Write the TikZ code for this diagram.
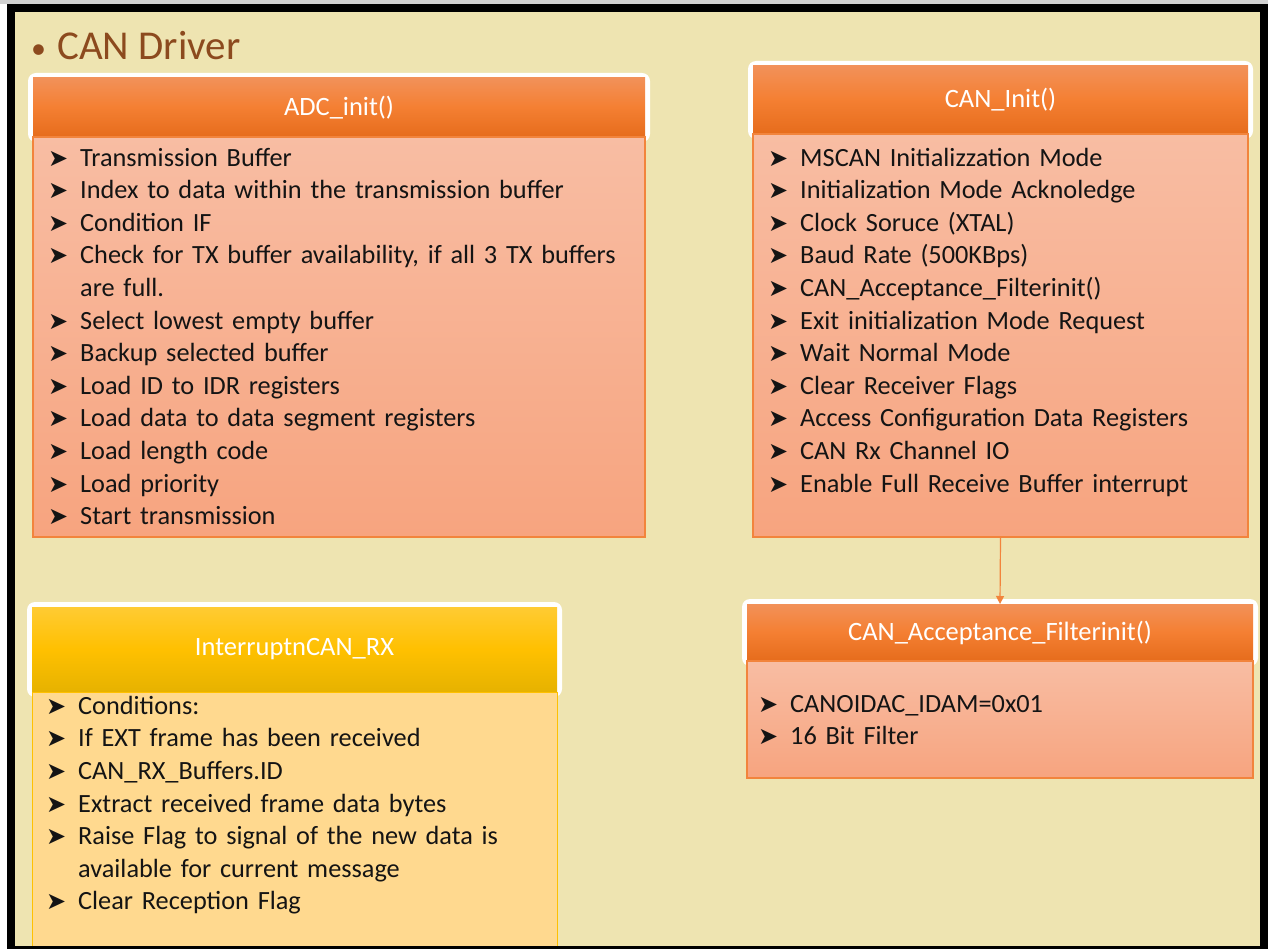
\documentclass[tikz,border=0pt]{standalone}
\usepackage{fontspec}
\setmainfont{Carlito}
\newfontfamily\dingfont{DejaVu Sans}
\usetikzlibrary{arrows.meta, positioning, fit, backgrounds}
\definecolor{slidebg}{HTML}{EEE4B1}
\definecolor{titlebrown}{HTML}{8C4A1E}
\definecolor{hdtop}{HTML}{F29159}
\definecolor{hdmid}{HTML}{F47F32}
\definecolor{hdbot}{HTML}{E66C1C}
\definecolor{bdtop}{HTML}{F8BDA3}
\definecolor{bdbot}{HTML}{F7A47F}
\definecolor{bodyline}{HTML}{F2843C}
\definecolor{gdtop}{HTML}{FFCB33}
\definecolor{gdmid}{HTML}{FFC000}
\definecolor{gdbot}{HTML}{E6B200}
\definecolor{gbody}{HTML}{FFD98F}
\setlength{\parindent}{0pt}
\newlength{\hangw}\setlength{\hangw}{30pt}
\newcommand{\bul}{{\dingfont\fontsize{24}{24}\selectfont\kern-2pt ➤}}
\newcommand{\bitem}[1]{\noindent\hangindent=\hangw\hangafter=1\makebox[\hangw][l]{\bul}\rule{0pt}{20pt}#1\par}
\tikzset{
  header/.style={rectangle, outer sep=0pt, inner sep=0pt, text=white,
                 font=\fontsize{26.5}{30}\selectfont,
                 top color=hdtop, bottom color=hdbot, middle color=hdmid},
  gheader/.style={header, top color=gdtop, bottom color=gdbot, middle color=gdmid},
  body/.style={rectangle, outer sep=0pt, inner sep=0pt, draw=bodyline, line width=1.5pt,
               top color=bdtop, bottom color=bdbot},
  gbodybox/.style={body, draw=gdmid, line width=1pt, top color=gbody, bottom color=gbody},
  glow/.style={rectangle, rounded corners=8pt, fill=white, inner sep=5pt},
  items/.style={anchor=north west, inner sep=0pt, align=left,
                font=\fontsize{26.3}{32.6}\selectfont, text=black!92},
  title/.style={inner sep=0pt, text=titlebrown, font=\fontsize{41}{41}\selectfont},
  link/.style={-{Triangle[length=8pt,width=8pt]}, draw=bodyline, line width=1.2pt},
}
\begin{document}
\begin{tikzpicture}[x=1pt, y=-1pt]
  \useasboundingbox (0,0) rectangle (1268,949);

  % Title
  \node[title, anchor=base west] (ttl) at (31,60) {\makebox[26pt][l]{\raisebox{1pt}{\fontsize{30}{30}\selectfont•}}CAN Driver};

  % ADC_init box
  \node[header, minimum width=612pt, minimum height=59pt, anchor=north west] (adch) at (33,78) {ADC\_init()};
  \node[body, minimum width=612pt, minimum height=400pt, below=0pt of adch] (adcb) {};
  \node[items, text width=585pt, below right=9pt and 17pt of adcb.north west] (adcl) {%
    \bitem{Transmission Buffer}
    \bitem{Index to data within the transmission buffer}
    \bitem{Condition IF}
    \bitem{Check for TX buffer availability, if all 3 TX buffers\newline are full.}
    \bitem{Select lowest empty buffer}
    \bitem{Backup selected buffer}
    \bitem{Load ID to IDR registers}
    \bitem{Load data to data segment registers}
    \bitem{Load length code}
    \bitem{Load priority}
    \bitem{Start transmission}};

  % CAN_Init box
  \node[header, minimum width=495pt, minimum height=68pt, anchor=north west] (canh) at (753,66) {CAN\_Init()};
  \node[body, minimum width=495pt, minimum height=403pt, below=0pt of canh] (canb) {};
  \node[items, text width=470pt, below right=12pt and 17pt of canb.north west] (canl) {%
    \bitem{MSCAN Initializzation Mode}
    \bitem{Initialization Mode Acknoledge}
    \bitem{Clock Soruce (XTAL)}
    \bitem{Baud Rate (500KBps)}
    \bitem{CAN\_Acceptance\_Filterinit()}
    \bitem{Exit initialization Mode Request}
    \bitem{Wait Normal Mode}
    \bitem{Clear Receiver Flags}
    \bitem{Access Configuration Data Registers}
    \bitem{CAN Rx Channel IO}
    \bitem{Enable Full Receive Buffer interrupt}};

  % CAN_Acceptance_Filterinit box
  \node[header, minimum width=506pt, minimum height=57pt, anchor=north west] (acch) at (747,604) {CAN\_Acceptance\_Filterinit()};
  \node[body, minimum width=506pt, minimum height=117pt, below=0pt of acch] (accb) {};
  \node[items, text width=480pt, below right=31pt and 13pt of accb.north west] (accl) {%
    \bitem{CANOIDAC\_IDAM=0x01}
    \bitem{16 Bit Filter}};

  % InterruptnCAN_RX box
  \node[gheader, minimum width=525pt, minimum height=85pt, anchor=north west] (inth) at (32,607) {InterruptnCAN\_RX};
  \node[gbodybox, minimum width=525pt, minimum height=258pt, below=0pt of inth] (intb) {};
  \node[items, text width=500pt, below right=2pt and 16pt of intb.north west] (intl) {%
    \bitem{Conditions:}
    \bitem{If EXT frame has been received}
    \bitem{CAN\_RX\_Buffers.ID}
    \bitem{Extract received frame data bytes}
    \bitem{Raise Flag to signal of the new data is\newline available for current message}
    \bitem{Clear Reception Flag}};

  % Connector
  \draw[link] (canb.south) -- (acch.north);

  % Bottom edge of the slide frame
  \fill[black] (7,946) rectangle (1268,949);

  % Slide frame and header glow
  \begin{scope}[on background layer]
    \fill[white] (0,0) rectangle (1268,949);
    \fill[black!18] (0,0) rectangle (1268,4);
    \fill[black] (7,4) rectangle (1268,949);
    \fill[slidebg] (15,12) rectangle (1260,946);
    \node[glow, fit=(adch)] (adcg) {};
    \node[glow, fit=(canh)] (cang) {};
    \node[glow, fit=(acch)] (accg) {};
    \node[glow, fit=(inth)] (intg) {};
  \end{scope}

\end{tikzpicture}
\end{document}
